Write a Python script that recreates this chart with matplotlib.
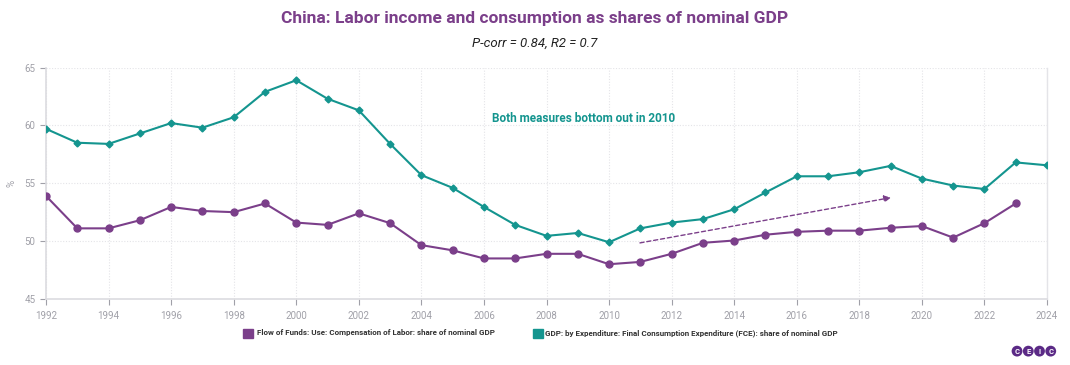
import numpy as np
import matplotlib.pyplot as plt

years = list(range(1992, 2025))

# GDP: Final Consumption Expenditure share of nominal GDP (%)
fce = [59.7, 58.5, 58.4, 59.3, 60.2, 59.8, 60.7, 62.9, 63.9, 62.3,
       61.3, 58.4, 55.7, 54.6, 52.95, 51.4, 50.45, 50.7, 49.9, 51.1,
       51.6, 51.9, 52.75, 54.2, 55.6, 55.6, 55.95, 56.5, 55.4, 54.8,
       54.5, 56.8, 56.55]

# Flow of Funds: Compensation of Labor share of nominal GDP (%), ends 2023
labor_years = list(range(1992, 2024))
labor = [53.9, 51.1, 51.1, 51.8, 52.95, 52.6, 52.5, 53.25, 51.6, 51.4,
         52.4, 51.55, 49.65, 49.2, 48.5, 48.5, 48.9, 48.9, 48.0, 48.2,
         48.9, 49.85, 50.05, 50.55, 50.8, 50.9, 50.9, 51.15, 51.3, 50.3,
         51.55, 53.25]

purple = '#7b3f8a'
teal = '#14958f'
grey = '#a0a0a8'

plt.rcParams['font.family'] = ['Roboto', 'DejaVu Sans']

fig = plt.figure(figsize=(10.7, 3.65), dpi=100)
ax = fig.add_axes([0.043, 0.181, 0.9355, 0.634])

ax.plot(labor_years, labor, color=purple, lw=1.5, marker='o', ms=5, zorder=3)
ax.plot(years, fce, color=teal, lw=1.5, marker='D', ms=3.5, zorder=3)

# trend arrow
ax.annotate('', xy=(2019.1, 53.8), xytext=(2010.9, 49.8),
            arrowprops=dict(arrowstyle='-|>', color=purple, lw=1,
                            ls=(0, (3, 2)), mutation_scale=10), zorder=2)

ax.text(2009.2, 60.6, 'Both measures bottom out in 2010', color=teal,
        fontsize=8.5, fontweight='bold', ha='center', va='center')

ax.set_xlim(1992, 2024)
ax.set_ylim(45, 65)
ax.set_xticks(range(1992, 2025, 2))
ax.set_yticks(range(45, 66, 5))
ax.grid(True, color='#e4e4e8', ls=(0, (1, 1.5)), lw=0.8)
ax.tick_params(colors=grey, labelsize=7, length=4, width=0.8)
ax.tick_params(axis='x', pad=5)
for s in ['top']:
    ax.spines[s].set_visible(False)
for s in ['left', 'bottom']:
    ax.spines[s].set_color('#dcdce0')
    ax.spines[s].set_linewidth(1.2)
ax.spines['right'].set_color('#e4e4e8')
ax.spines['right'].set_linewidth(1.0)
ax.set_ylabel('%', color=grey, fontsize=7, labelpad=6)

fig.text(0.5, 0.95, 'China: Labor income and consumption as shares of nominal GDP',
         ha='center', va='center', color=purple, fontsize=12.5, fontweight='bold')
fig.text(0.5, 0.882, 'P-corr = 0.84, R2 = 0.7', ha='center', va='center',
         fontsize=9.5, style='italic', color='#222222')

# legend
fig.patches.append(plt.Rectangle((0.227, 0.0745), 0.0093, 0.0245, transform=fig.transFigure,
                                 color=purple, figure=fig))
fig.text(0.2405, 0.088, 'Flow of Funds: Use: Compensation of Labor: share of nominal GDP',
         fontsize=5.8, fontweight='bold', color='#333333', va='center')
fig.patches.append(plt.Rectangle((0.498, 0.0745), 0.0093, 0.0245, transform=fig.transFigure,
                                 color=teal, figure=fig))
fig.text(0.5095, 0.088, 'GDP: by Expenditure: Final Consumption Expenditure (FCE): share of nominal GDP',
         fontsize=5.8, fontweight='bold', color='#333333', va='center')

# CEIC badge
for i, ch in enumerate('CEIC'):
    fig.text(0.9505 + i * 0.0105, 0.038, ch, ha='center', va='center',
             fontsize=5.5, fontweight='bold', color='white',
             bbox=dict(boxstyle='circle,pad=0.25', fc='#5b2a86', ec='none'))

fig.savefig('out.png', dpi=100)
